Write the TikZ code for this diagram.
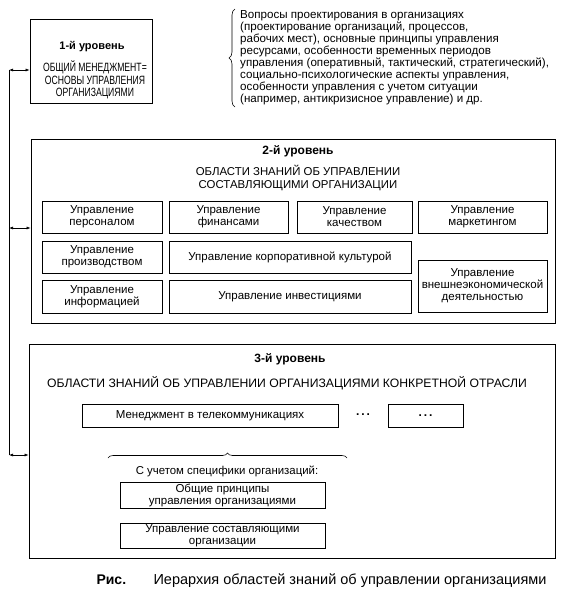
\documentclass[tikz,border=0pt]{standalone}
\usepackage{fontspec}
\setmainfont{Liberation Sans}
\newfontfamily\narrowsf{Liberation Sans}[FakeStretch=0.72]
\usetikzlibrary{arrows.meta,positioning,decorations.pathreplacing}

\begin{document}
\begin{tikzpicture}[x=1pt,y=-1pt,>=Latex,
 lvl/.style={draw,line width=0.8pt},
 box/.style={draw,line width=0.8pt,align=center,inner sep=1pt,font=\fontsize{11.5}{12}\selectfont},
 ttl/.style={font=\fontsize{12}{13}\selectfont\bfseries},
 txt/.style={align=center,font=\fontsize{11.4}{12.5}\selectfont},
 arr/.style={{Latex[length=4pt,width=3pt]}-{Latex[length=4pt,width=3pt]},line width=0.6pt},
 brc/.style={decorate,decoration={brace,amplitude=6pt},line width=0.6pt}]
\useasboundingbox (0,0) rectangle (565,606);
% 1-й уровень
\node[lvl,minimum width=122pt,minimum height=84pt] (lvlone) at (91,61.5) {};
\node[ttl,font=\fontsize{11}{12}\selectfont\bfseries] (ttlone) at (92,47) {1-й уровень};
\node[txt,font=\fontsize{12}{12.5}\selectfont\narrowsf] (subone) at (95,80) {ОБЩИЙ МЕНЕДЖМЕНТ=\\ОСНОВЫ УПРАВЛЕНИЯ\\ОРГАНИЗАЦИЯМИ};
\coordinate (brtop) at (235,9);
\coordinate (brbot) at (235,107);
\draw[brc] (brbot) -- (brtop);
\node[anchor=north west,align=left,inner sep=0pt,font=\fontsize{11.6}{12}\selectfont] (issues) at (240,10)
 {Вопросы проектирования в организациях\\(проектирование организаций, процессов,\\рабочих мест), основные принципы управления\\ресурсами, особенности временных периодов\\управления (оперативный, тактический, стратегический),\\социально-психологические аспекты управления,\\особенности управления с учетом ситуации\\(например, антикризисное управление) и др.};
% 2-й уровень
\node[lvl,minimum width=524pt,minimum height=184pt] (lvltwo) at (293,231) {};
\node[ttl] (ttltwo) at (298,151) {2-й уровень};
\node[txt] (subtwo) at (298,178) {ОБЛАСТИ ЗНАНИЙ ОБ УПРАВЛЕНИИ\\СОСТАВЛЯЮЩИМИ ОРГАНИЗАЦИИ};
\node[box,minimum width=120pt,minimum height=32pt] (pers) at (102,217) {Управление\\персоналом};
\node[box,minimum width=119pt,minimum height=32pt] (fin) at (228.5,217) {Управление\\финансами};
\node[box,minimum width=115pt,minimum height=32pt] (qual) at (354.5,217) {Управление\\качеством};
\node[box,minimum width=129pt,minimum height=32pt] (mark) at (482.5,217) {Управление\\маркетингом};
\node[box,minimum width=120pt,minimum height=32pt] (prod) at (102,257) {Управление\\производством};
\node[box,minimum width=242pt,minimum height=32pt] (cult) at (290,257) {Управление корпоративной культурой};
\node[box,minimum width=120pt,minimum height=33pt] (info) at (102,296.5) {Управление\\информацией};
\node[box,minimum width=242pt,minimum height=33pt] (inv) at (290,296.5) {Управление инвестициями};
\node[box,minimum width=129pt,minimum height=52pt] (ved) at (482.5,286) {Управление\\внешнеэкономической\\деятельностью};
% 3-й уровень
\node[lvl,minimum width=526pt,minimum height=214pt] (lvlthree) at (292,451) {};
\node[ttl] (ttlthree) at (290,359) {3-й уровень};
\node[txt,font=\fontsize{12.2}{13}\selectfont] (subthree) at (287,383) {ОБЛАСТИ ЗНАНИЙ ОБ УПРАВЛЕНИИ ОРГАНИЗАЦИЯМИ КОНКРЕТНОЙ ОТРАСЛИ};
\node[box,minimum width=256pt,minimum height=23pt] (tele) at (210,415.5) {Менеджмент в телекоммуникациях};
\node[txt,font=\fontsize{12}{12}\selectfont\bfseries] (dots) at (363,415) {.\,.\,.};
\node[box,minimum width=75pt,minimum height=23pt,font=\fontsize{12}{12}\selectfont\bfseries] (other) at (425.5,415.5) {.\,.\,.};
\coordinate (bl) at (108,458);
\coordinate (br) at (347,458);
\draw[brc,decoration={amplitude=5pt}] (bl) -- (br);
\node[txt] (spec) at (227,471) {С учетом специфики организаций:};
\node[box,minimum width=205pt,minimum height=26pt] (princ) at (222.5,495) {Общие принципы\\управления организациями};
\node[box,minimum width=205pt,minimum height=25pt] (parts) at (222.5,535.5) {Управление составляющими\\организации};
% связи
\coordinate (jone) at (9,70);
\coordinate (jtwo) at (9,228);
\coordinate (jthree) at (9,455);
\draw[line width=0.6pt] (jone) -- (jthree);
\draw[arr] (jone) -- (jone -| lvlone.west);
\draw[arr] (jtwo) -- (jtwo -| lvltwo.west);
\draw[arr] (jthree) -- (jthree -| lvlthree.west);
% подпись
\node[anchor=base west,font=\fontsize{14}{16}\selectfont\bfseries] (fig) at (93,584) {Рис.};
\node[anchor=base west,font=\fontsize{14.5}{16}\selectfont] (cap) at (150,584) {Иерархия областей знаний об управлении организациями};
\end{tikzpicture}
\end{document}
